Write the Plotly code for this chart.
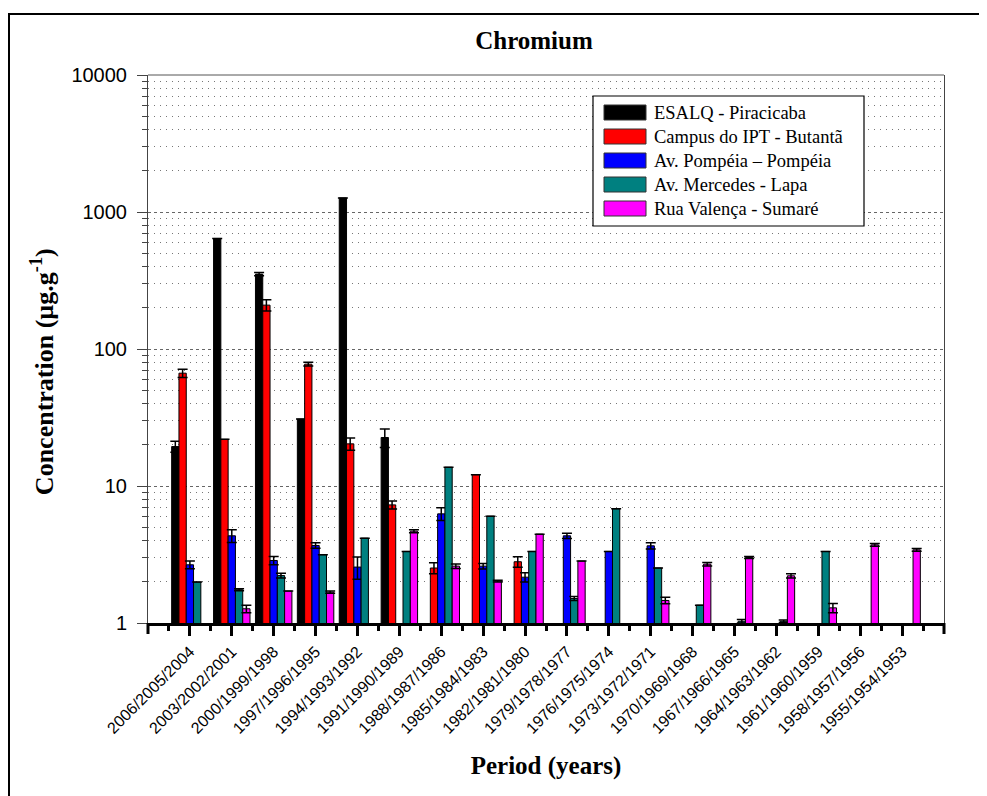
import plotly.graph_objects as go

periods = ["2006/2005/2004", "2003/2002/2001", "2000/1999/1998", "1997/1996/1995",
           "1994/1993/1992", "1991/1990/1989", "1988/1987/1986", "1985/1984/1983",
           "1982/1981/1980", "1979/1978/1977", "1976/1975/1974", "1973/1972/1971",
           "1970/1969/1968", "1967/1966/1965", "1964/1963/1962", "1961/1960/1959",
           "1958/1957/1956", "1955/1954/1953"]

esalq = [19.4, 641, 352, 30.8, 1267, 22.6, None, None, None, None, None, None,
         None, None, None, None, None, None]
esalq_err = [1.8, 0, 10, 0, 0, 3.5, 0, 0, 0, 0, 0, 0, 0, 0, 0, 0, 0, 0]

ipt = [66.6, 21.9, 209, 77.5, 20.3, 7.28, 2.52, 12.1, 2.80, None, None, None,
       None, None, None, None, None, None]
ipt_err = [4.7, 0, 20, 2.5, 2.1, 0.5, 0.23, 0, 0.25, 0, 0, 0, 0, 0, 0, 0, 0, 0]

pompeia = [2.66, 4.33, 2.86, 3.68, 2.56, None, 6.26, 2.60, 2.16, 4.33, 3.33, 3.66,
           None, None, None, None, None, None]
pompeia_err = [0.17, 0.46, 0.2, 0.17, 0.47, 0, 0.67, 0.12, 0.17, 0.19, 0, 0.19,
               0, 0, 0, 0, 0, 0]

mercedes = [1.99, 1.75, 2.22, 3.15, 4.16, 3.33, 13.7, 6.02, 3.33, 1.51, 6.81, 2.52,
            1.35, 1.03, 1.03, 3.33, None, None]
mercedes_err = [0, 0.03, 0.09, 0, 0, 0, 0, 0, 0, 0.05, 0, 0, 0, 0.03, 0.02, 0, 0, 0]

valenca = [None, 1.27, 1.71, 1.68, None, 4.68, 2.60, 2.02, 4.45, 2.83, None, 1.46,
           2.69, 3.01, 2.21, 1.29, 3.72, 3.42]
valenca_err = [0, 0.08, 0, 0.03, 0, 0.12, 0.1, 0.03, 0, 0, 0, 0.08, 0.08, 0.05,
               0.08, 0.1, 0.09, 0.08]

series_names = ["ESALQ - Piracicaba", "Campus do IPT - Butantã", "Av. Pompéia – Pompéia",
                "Av. Mercedes - Lapa", "Rua Valença - Sumaré"]
series_colors = ["#000000", "#FF0000", "#0000FF", "#008080", "#FF00FF"]
series_values = [esalq, ipt, pompeia, mercedes, valenca]
series_errors = [esalq_err, ipt_err, pompeia_err, mercedes_err, valenca_err]

y_major = [1, 10, 100, 1000, 10000]
y_minor = [k * 10 ** d for d in range(4) for k in range(2, 10)]

chart_title = "Chromium"
x_title = "Period (years)"
y_title = "Concentration (µg.g<sup>-1</sup>)"

# layout in reference-pixel coordinates; the page body adds an 8px offset
OFF = 8
W, H = 987, 796
L, R, T, B = 148, 944, 75, 623


def px(x):
    return (x - L) / (R - L)


def py(y):
    return (B - y) / (B - T)


xs = list(range(len(periods)))
fig = go.Figure()
for name, color, vals, errs in zip(series_names, series_colors, series_values, series_errors):
    fig.add_trace(go.Bar(
        x=xs, y=vals, name=name, showlegend=False,
        marker=dict(color=color, line=dict(color="#000000", width=1)),
        error_y=dict(type="data", array=errs, visible=True, color="#000000",
                     thickness=1.5, width=5),
    ))

shapes = []
# outer frame (left and top)
shapes.append(dict(type="line", xref="paper", yref="paper", x0=px(9), x1=px(9),
                   y0=py(14), y1=py(H + 5), line=dict(color="black", width=2)))
shapes.append(dict(type="line", xref="paper", yref="paper", x0=px(8), x1=px(W + 5),
                   y0=py(14), y1=py(14), line=dict(color="black", width=2)))
# top border of plot area
shapes.append(dict(type="line", xref="paper", yref="paper", x0=0, x1=1, y0=1, y1=1,
                   line=dict(color="#555555", width=1)))
# end ticks of the x axis
for xe in (0, 1):
    shapes.append(dict(type="line", xref="paper", yref="paper", x0=xe, x1=xe,
                       y0=0, y1=py(B + 11), line=dict(color="black", width=3)))

annotations = []
# legend box
lx0, lx1, ly0, ly1 = 593, 864, 96, 226
shapes.append(dict(type="rect", xref="paper", yref="paper", x0=px(lx0), x1=px(lx1),
                   y0=py(ly1), y1=py(ly0), line=dict(color="black", width=1.2),
                   fillcolor="white", layer="above"))
for i, (name, color) in enumerate(zip(series_names, series_colors)):
    cy = 112.5 + 24 * i
    shapes.append(dict(type="rect", xref="paper", yref="paper", x0=px(604), x1=px(646),
                       y0=py(cy + 7.5), y1=py(cy - 7.5),
                       line=dict(color="#333333", width=1), fillcolor=color, layer="above"))
    annotations.append(dict(text=name, xref="paper", yref="paper", x=px(652), y=py(cy),
                            xanchor="left", yanchor="middle", showarrow=False,
                            font=dict(family="Liberation Serif", size=18.5, color="black")))

fig.update_layout(
    width=W - OFF, height=H - OFF, autosize=False,
    margin=dict(l=L - OFF, r=W - R, t=T - OFF, b=H - B, pad=0),
    paper_bgcolor="white", plot_bgcolor="white",
    barmode="group", bargap=0.13, bargroupgap=0,
    shapes=shapes, annotations=annotations,
    font=dict(family="Liberation Sans", color="black"),
    title=dict(text="<b>" + chart_title + "</b>", xref="paper", x=px(534),
               xanchor="center", yref="container", y=1 - (40 - OFF) / (H - OFF),
               yanchor="middle",
               font=dict(family="Liberation Serif", size=25, color="black")),
)
fig.update_xaxes(
    range=[-1, len(periods)],
    tickmode="array", tickvals=xs, ticktext=periods,
    tickangle=-45, tickfont=dict(family="Liberation Sans", size=16, color="black"),
    showline=True, linecolor="black", linewidth=3,
    ticks="outside", ticklen=10, tickwidth=3, tickcolor="black",
    showgrid=False, zeroline=False, automargin=False,
    title=dict(text="<b>" + x_title + "</b>", standoff=21,
               font=dict(family="Liberation Serif", size=25, color="black")),
    minor=dict(tick0=-0.5, dtick=1, ticks="outside", ticklen=5, tickwidth=3,
               tickcolor="black", showgrid=False),
)
fig.update_yaxes(
    type="log", range=[0, 4],
    tickmode="array", tickvals=y_major, ticktext=[str(v) for v in y_major],
    tickfont=dict(family="Liberation Sans", size=20, color="black"),
    ticklabelstandoff=6, automargin=False,
    title=dict(text="<b>" + y_title + "\u00a0" * 7 + "</b>", standoff=10,
               font=dict(family="Liberation Serif", size=26, color="black")),
    showline=True, linecolor="#444444", linewidth=1, mirror=True,
    ticks="outside", ticklen=10, tickwidth=1, tickcolor="#444444",
    showgrid=True, gridcolor="#666666", griddash="3px,3px", gridwidth=1,
    zeroline=False,
    minor=dict(tickmode="array", tickvals=y_minor, ticks="outside", ticklen=5,
               tickwidth=1, tickcolor="#444444", showgrid=True, gridcolor="#777777",
               griddash="1px,5px", gridwidth=1),
)

fig.write_html("out.html")
